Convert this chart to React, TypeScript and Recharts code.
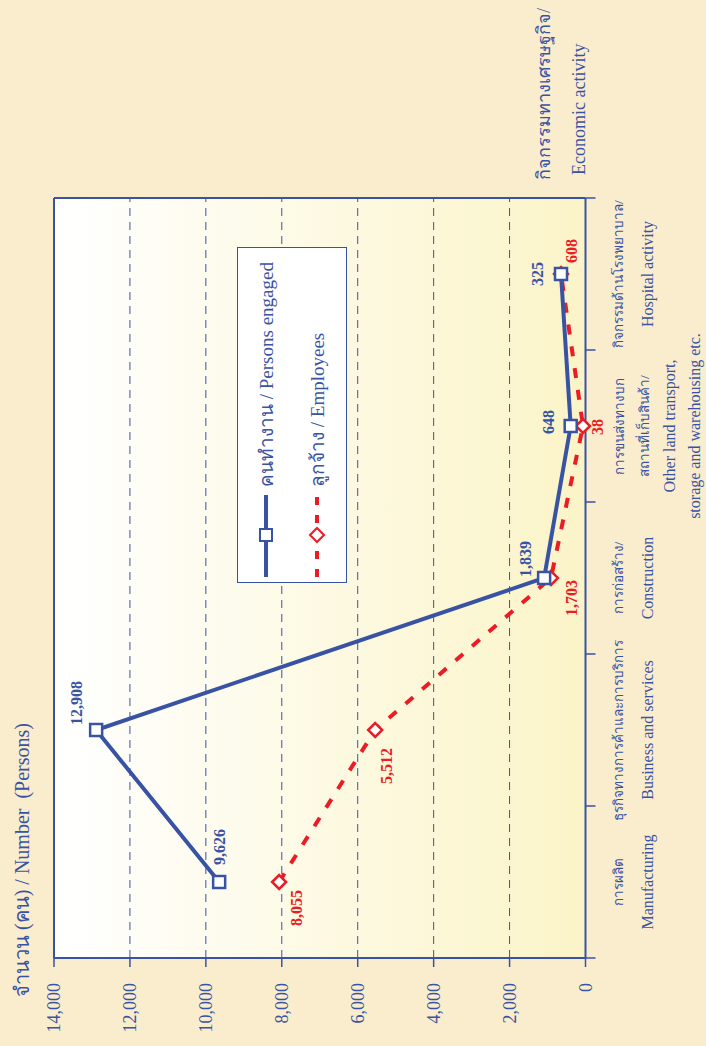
import React from 'react';
import {
  LineChart,
  Line,
  XAxis,
  YAxis,
  CartesianGrid,
  ReferenceLine,
  Legend,
  LabelList,
} from 'recharts';

// category labels (Thai / English), bottom to top in the picture
const categoryLines: string[][] = [
  ['การผลิต', 'Manufacturing'],
  ['ธุรกิจทางการค้าและการบริการ', 'Business and services'],
  ['การก่อสร้าง/', 'Construction'],
  ['การขนส่งทางบก', 'สถานที่เก็บสินค้า/', 'Other land transport,', 'storage and warehousing etc.'],
  ['กิจกรรมด้านโรงพยาบาล/', 'Hospital activity'],
];

// values as drawn in the picture
const personsEngaged = [9650, 12890, 1090, 390, 645];
const employees = [8070, 5540, 910, 66, 645];

// the numbers printed next to the points
const personsLabels = ['9,626', '12,908', '1,839', '648', '325'];
const employeesLabels = ['8,055', '5,512', '1,703', '38', '608'];

const valueTicks = [0, 2000, 4000, 6000, 8000, 10000, 12000, 14000];
const categoryTicks = [-0.5, 0, 0.5, 1, 1.5, 2, 2.5, 3, 3.5, 4, 4.5];

const data = categoryLines.map((_, i) => ({
  idx: i,
  persons: personsEngaged[i],
  employees: employees[i],
}));

// label placement relative to each point: dx, dy, anchor
const personsLabelPos: [number, number, string][] = [
  [17, 0, 'start'],
  [5, -20, 'start'],
  [1, -19, 'start'],
  [4, -22, 'middle'],
  [0, -24, 'middle'],
];
const employeesLabelPos: [number, number, string][] = [
  [-8, 17, 'end'],
  [-18, 11, 'end'],
  [-2, 21, 'end'],
  [-1, 15, 'middle'],
  [11, 10, 'start'],
];

const BLUE = '#3953a4';
const RED = '#ec1c24';
const FONT = '"Liberation Serif", "Times New Roman", serif';
const isThai = (s: string) => /[\u0E00-\u0E7F]/.test(s);

const SquareDot = (props: any) => {
  const { cx, cy } = props;
  if (cx == null || cy == null) return null;
  return <rect x={cx - 6} y={cy - 6} width={12} height={12} fill="#fff" stroke={BLUE} strokeWidth={2.5} />;
};

const DiamondDot = (props: any) => {
  const { cx, cy } = props;
  if (cx == null || cy == null) return null;
  return (
    <polygon
      points={`${cx},${cy - 7} ${cx + 7},${cy} ${cx},${cy + 7} ${cx - 7},${cy}`}
      fill="#fff"
      stroke={RED}
      strokeWidth={2.5}
    />
  );
};

const makeLabel = (texts: string[], pos: [number, number, string][], color: string) => (props: any) => {
  const { x, y, index } = props;
  const [dx, dy, anchor] = pos[index];
  return (
    <text
      x={x + dx}
      y={y + dy}
      textAnchor={anchor}
      dominantBaseline="central"
      fontFamily={FONT}
      fontWeight="bold"
      fontSize={16}
      fill={color}
    >
      {texts[index]}
    </text>
  );
};

const CategoryTick = (props: any) => {
  const { x, y, payload } = props;
  const v = payload.value;
  if (!Number.isInteger(v)) {
    return <line x1={x} x2={x} y1={y} y2={y + 10} stroke={BLUE} strokeWidth={1.5} />;
  }
  const lines = categoryLines[v];
  const offsets = lines.length > 2 ? [33.5, 58.5, 84, 109] : [32.5, 61.5];
  return (
    <g>
      {lines.map((t, i) => (
        <text
          key={i}
          x={x}
          y={y + offsets[i]}
          textAnchor="middle"
          dominantBaseline="central"
          fontFamily={FONT}
          fontSize={isThai(t) ? 13.5 : 16}
          fill={BLUE}
        >
          {t}
        </text>
      ))}
    </g>
  );
};

const LegendBox = () => (
  <div
    style={{
      width: 336,
      height: 110,
      border: `1px solid ${BLUE}`,
      background: '#fff',
      boxSizing: 'border-box',
      position: 'relative',
    }}
  >
    <svg width={336} height={110} style={{ position: 'absolute', left: -1, top: -1 }}>
      <line x1={6} x2={88} y1={29} y2={29} stroke={BLUE} strokeWidth={4} />
      <rect x={42} y={23} width={12} height={12} fill="#fff" stroke={BLUE} strokeWidth={2} />
      <line x1={6} x2={88} y1={80} y2={80} stroke={RED} strokeWidth={4} strokeDasharray="8 10" />
      <polygon points="48,73 55,80 48,87 41,80" fill="#fff" stroke={RED} strokeWidth={2} />
      <text x={96} y={29} dominantBaseline="central" fontFamily={FONT} fontSize={19} fill={BLUE}>
        คนทำงาน / Persons engaged
      </text>
      <text x={96} y={80} dominantBaseline="central" fontFamily={FONT} fontSize={19} fill={BLUE}>
        ลูกจ้าง / Employees
      </text>
    </svg>
  </div>
);

export default function App() {
  return (
    <div
      style={{
        position: 'absolute',
        left: 0,
        top: 0,
        width: 706,
        height: 1046,
        background: '#f9edcd',
        overflow: 'hidden',
        fontFamily: FONT,
      }}
    >
      <div
        style={{
          position: 'absolute',
          left: 0,
          top: 0,
          width: 1046,
          height: 706,
          transformOrigin: '0 0',
          transform: 'translateY(1046px) rotate(-90deg)',
        }}
      >
        <LineChart width={1046} height={706} data={data} margin={{ top: 54, right: 198, left: 0, bottom: 0 }}>
          <defs>
            <linearGradient id="plotBg" x1="0" y1="0" x2="0" y2="1">
              <stop offset="0%" stopColor="#ffffff" />
              <stop offset="100%" stopColor="#fbf4c8" />
            </linearGradient>
          </defs>
          <CartesianGrid vertical={false} stroke={BLUE} strokeDasharray="8 6" fill="url(#plotBg)" />
          <XAxis
            dataKey="idx"
            type="number"
            domain={[-0.5, 4.5]}
            ticks={categoryTicks}
            interval={0}
            allowDecimals
            height={120.5}
            tickSize={0}
            tickMargin={0}
            tickLine={false}
            axisLine={{ stroke: BLUE, strokeWidth: 2 }}
            tick={<CategoryTick />}
          />
          <YAxis
            type="number"
            domain={[0, 14000]}
            ticks={valueTicks}
            interval={0}
            width={88}
            tickSize={9}
            tickMargin={16}
            tickLine={{ stroke: BLUE, strokeWidth: 1.5 }}
            axisLine={{ stroke: BLUE, strokeWidth: 2 }}
            tick={{ fill: BLUE, fontSize: 18, fontFamily: FONT }}
            tickFormatter={(v: number) => v.toLocaleString('en-US')}
          />
          <ReferenceLine y={14000} stroke={BLUE} strokeWidth={2} />
          <ReferenceLine x={4.5} stroke={BLUE} strokeWidth={2} />
          <Legend
            layout="vertical"
            verticalAlign="middle"
            align="center"
            content={<LegendBox />}
            wrapperStyle={{ left: 463, top: 237, width: 336, height: 110 }}
          />
          <Line
            dataKey="employees"
            stroke={RED}
            strokeWidth={4}
            strokeDasharray="10 12"
            dot={<DiamondDot />}
            activeDot={false}
            isAnimationActive={false}
          >
            <LabelList dataKey="employees" content={makeLabel(employeesLabels, employeesLabelPos, RED)} />
          </Line>
          <Line
            dataKey="persons"
            stroke={BLUE}
            strokeWidth={4}
            dot={<SquareDot />}
            activeDot={false}
            isAnimationActive={false}
          >
            <LabelList dataKey="persons" content={makeLabel(personsLabels, personsLabelPos, BLUE)} />
          </Line>
        </LineChart>
        <div
          style={{
            position: 'absolute',
            left: 49,
            top: 9,
            fontSize: 20,
            lineHeight: '26px',
            color: BLUE,
            whiteSpace: 'pre',
          }}
        >
          {'จำนวน (คน) / Number  (Persons)'}
        </div>
        <div
          style={{
            position: 'absolute',
            left: 866,
            top: 527,
            fontSize: 18,
            lineHeight: '35px',
            color: BLUE,
            whiteSpace: 'pre',
          }}
        >
          <div>กิจกรรมทางเศรษฐกิจ/</div>
          <div style={{ paddingLeft: 5 }}>Economic activity</div>
        </div>
      </div>
    </div>
  );
}
